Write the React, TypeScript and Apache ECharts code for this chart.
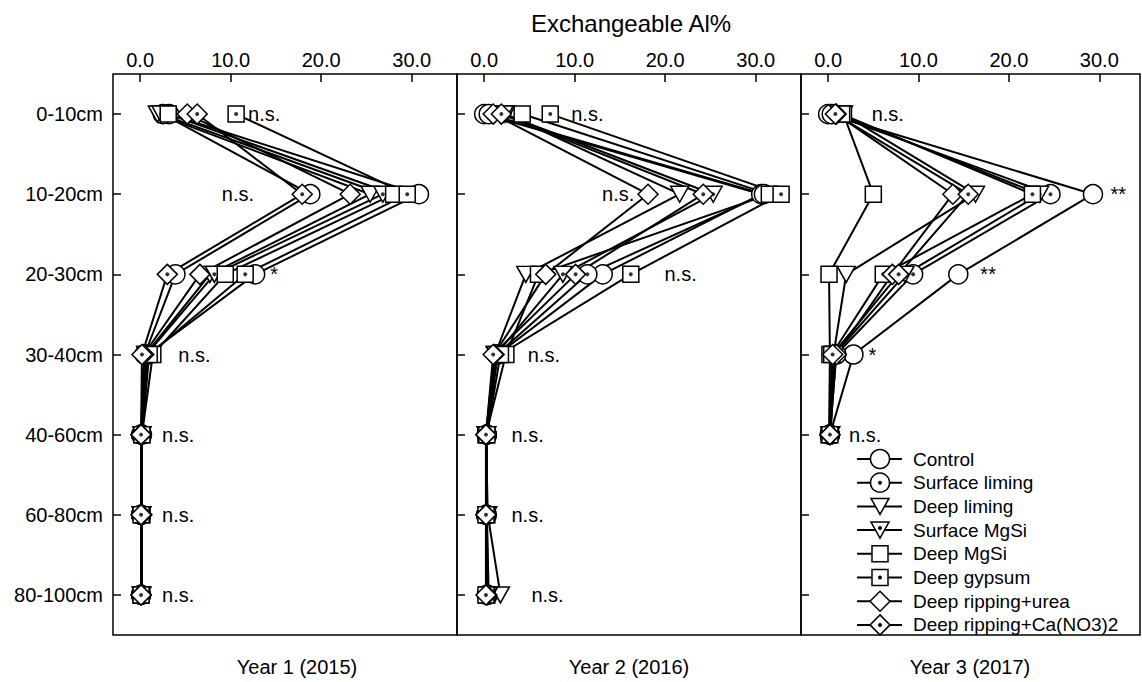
import React, { useEffect, useRef } from "react";
import * as echarts from "echarts";

const depths = ["0-10cm", "10-20cm", "20-30cm", "30-40cm", "40-60cm", "60-80cm", "80-100cm"];
const xTicks = [0, 10, 20, 30];
const yearLabels = ["Year 1 (2015)", "Year 2 (2016)", "Year 3 (2017)"];
const treatments = [
  "Control",
  "Surface liming",
  "Deep liming",
  "Surface MgSi",
  "Deep MgSi",
  "Deep gypsum",
  "Deep ripping+urea",
  "Deep ripping+Ca(NO3)2",
];

// Exchangeable Al% by depth (0-10 ... 80-100 cm), one array per treatment
const year1 = [
  [3.2, 30.8, 12.7, 0.8, 0.2, 0.1, 0.1],
  [2.5, 18.8, 3.9, 0.5, 0.1, 0.1, 0.1],
  [1.9, 25.4, 7.7, 0.6, 0.2, 0.2, 0.2],
  [2.3, 26.8, 8.2, 0.7, 0.2, 0.1, 0.1],
  [3.1, 28.0, 9.4, 1.4, 0.2, 0.2, 0.1],
  [10.6, 29.5, 11.6, 1.0, 0.2, 0.1, 0.1],
  [5.2, 23.2, 6.6, 0.4, 0.1, 0.2, 0.1],
  [6.3, 17.9, 3.0, 0.2, 0.1, 0.1, 0.1],
];
const year2 = [
  [0.0, 30.6, 13.1, 1.5, 0.3, 0.3, 0.4],
  [0.5, 30.9, 11.4, 1.4, 0.3, 0.2, 0.3],
  [2.4, 21.6, 4.6, 1.2, 0.2, 0.4, 1.8],
  [2.2, 25.3, 8.7, 1.3, 0.3, 0.3, 0.5],
  [4.2, 31.5, 6.0, 2.4, 0.2, 0.3, 0.3],
  [7.3, 32.8, 16.2, 1.8, 0.3, 0.2, 0.2],
  [1.0, 18.1, 6.8, 1.1, 0.2, 0.2, 0.3],
  [1.9, 24.2, 10.1, 1.0, 0.2, 0.2, 0.2],
];
const year3 = [
  [0.0, 29.3, 14.4, 2.8, 0.2],
  [0.4, 24.6, 9.4, 0.9, 0.2],
  [1.7, 16.3, 2.0, 0.6, 0.3],
  [1.2, 23.4, 8.5, 0.7, 0.2],
  [1.7, 5.0, 0.1, 0.2, 0.1],
  [1.5, 22.6, 6.1, 0.4, 0.2],
  [0.9, 13.8, 7.1, 0.9, 0.2],
  [0.8, 15.5, 7.8, 0.5, 0.2],
];
const years = [year1, year2, year3];

// significance annotations: [panel, depth index, x value, text]
const annotations: [number, number, number, string][] = [
  [0, 0, 13.7, "n.s."],
  [0, 1, 10.8, "n.s."],
  [0, 2, 14.8, "*"],
  [0, 3, 6.0, "n.s."],
  [0, 4, 4.2, "n.s."],
  [0, 5, 4.2, "n.s."],
  [0, 6, 4.2, "n.s."],
  [1, 0, 11.4, "n.s."],
  [1, 1, 14.8, "n.s."],
  [1, 2, 21.7, "n.s."],
  [1, 3, 6.6, "n.s."],
  [1, 4, 4.8, "n.s."],
  [1, 5, 4.8, "n.s."],
  [1, 6, 7.0, "n.s."],
  [2, 0, 6.6, "n.s."],
  [2, 1, 32.1, "**"],
  [2, 2, 17.7, "**"],
  [2, 3, 4.9, "*"],
  [2, 4, 4.1, "n.s."],
];

const FONT = "'Liberation Sans', Arial, Helvetica, sans-serif";
const shapeOf = ["circle", "circle", "tri", "tri", "rect", "rect", "diamond", "diamond"];
const dotted = [false, true, false, true, false, true, false, true];

function symbolProps(shape: string) {
  if (shape === "circle") return { symbol: "circle", symbolSize: 19, symbolRotate: 0 };
  if (shape === "tri") return { symbol: "triangle", symbolSize: [18, 16], symbolRotate: 180 };
  if (shape === "rect") return { symbol: "rect", symbolSize: 16, symbolRotate: 0 };
  return { symbol: "diamond", symbolSize: [20, 20], symbolRotate: 0 };
}

export default function App() {
  const ref = useRef<HTMLDivElement>(null);
  useEffect(() => {
    if (!ref.current) return;
    const chart = echarts.init(ref.current, null, { renderer: "svg" });
    const grids = [
      { left: 113, top: 74, width: 344, height: 561 },
      { left: 457, top: 74, width: 344, height: 561 },
      { left: 801, top: 74, width: 339, height: 561 },
    ];
    const maxes = [35, 35, 34.5];
    const series: any[] = [];
    years.forEach((yr, p) => {
      yr.forEach((vals) => {
        series.push({
          type: "line",
          xAxisIndex: p,
          yAxisIndex: p,
          data: vals.map((v, i) => [v, i]),
          symbol: "none",
          lineStyle: { color: "#000", width: 2 },
          z: 2,
          silent: true,
        });
      });
    });
    years.forEach((yr, p) => {
      yr.forEach((vals, t) => {
        const sp = symbolProps(shapeOf[t]);
        series.push({
          type: "scatter",
          xAxisIndex: p,
          yAxisIndex: p,
          data: vals.map((v, i) => [v, i]),
          ...sp,
          itemStyle: { color: "#fff", borderColor: "#000", borderWidth: 1.5, opacity: 1 },
          z: 3,
          silent: true,
        });
        if (dotted[t]) {
          series.push({
            type: "scatter",
            xAxisIndex: p,
            yAxisIndex: p,
            data: vals.map((v, i) => [v, i]),
            symbol: "circle",
            symbolSize: 4,
            itemStyle: { color: "#000" },
            z: 3,
            silent: true,
          });
        }
      });
    });
    [0, 1, 2].forEach((p) => {
      series.push({
        type: "scatter",
        xAxisIndex: p,
        yAxisIndex: p,
        data: annotations.filter((a) => a[0] === p).map((a) => [a[2], a[1], a[3]]),
        symbol: "circle",
        symbolSize: 1,
        itemStyle: { color: "#fff" },
        label: {
          show: true,
          position: "inside",
          formatter: (d: any) => d.value[2],
          color: "#000",
          opacity: 1,
          textBorderWidth: 0,
          fontSize: 20,
          fontFamily: FONT,
        },
        z: 4,
        silent: true,
      });
    });

    const graphics: any[] = [];
    graphics.push({
      type: "text",
      x: 631,
      y: 23,
      style: { text: "Exchangeable Al%", font: `24px ${FONT}`, fill: "#000", textAlign: "center", textVerticalAlign: "middle" },
    });
    const yearX = [297, 629, 970];
    yearLabels.forEach((s, i) => {
      graphics.push({
        type: "text",
        x: yearX[i],
        y: 667,
        style: { text: s, font: `20px ${FONT}`, fill: "#000", textAlign: "center", textVerticalAlign: "middle" },
      });
    });
    treatments.forEach((name, i) => {
      const y = 459 + i * 23.7;
      const cx = 880;
      graphics.push({ type: "line", shape: { x1: 857, y1: y, x2: 902, y2: y }, style: { stroke: "#000", lineWidth: 2 }, z: 10 });
      const st = { fill: "#fff", stroke: "#000", lineWidth: 1.5 };
      const s = shapeOf[i];
      if (s === "circle") graphics.push({ type: "circle", shape: { cx, cy: y, r: 9.5 }, style: st, z: 11 });
      else if (s === "rect") graphics.push({ type: "rect", shape: { x: cx - 8, y: y - 8, width: 16, height: 16 }, style: st, z: 11 });
      else if (s === "tri")
        graphics.push({ type: "polygon", shape: { points: [[cx - 9, y - 8], [cx + 9, y - 8], [cx, y + 8]] }, style: st, z: 11 });
      else
        graphics.push({ type: "polygon", shape: { points: [[cx, y - 10], [cx + 10, y], [cx, y + 10], [cx - 10, y]] }, style: st, z: 11 });
      if (dotted[i]) graphics.push({ type: "circle", shape: { cx, cy: s === "tri" ? y - 2 : y, r: 2 }, style: { fill: "#000" }, z: 12 });
      graphics.push({
        type: "text",
        x: 913,
        y,
        style: { text: name, font: `19px ${FONT}`, fill: "#000", textAlign: "left", textVerticalAlign: "middle" },
        z: 11,
      });
    });

    chart.setOption({
      animation: false,
      backgroundColor: "#fff",
      grid: grids.map((g) => ({ ...g, show: true, borderColor: "#000", borderWidth: 1.5, backgroundColor: "transparent" })),
      xAxis: [0, 1, 2].map((p) => ({
        type: "value",
        gridIndex: p,
        position: "top",
        min: -3,
        max: maxes[p],
        axisLine: { show: false, onZero: false },
        axisTick: { show: true, inside: true, length: 8, customValues: xTicks, lineStyle: { color: "#000", width: 1.5 } },
        axisLabel: {
          show: true,
          customValues: xTicks,
          formatter: (v: number) => v.toFixed(1),
          fontSize: 20,
          fontFamily: FONT,
          color: "#000",
          margin: 4,
        },
        splitLine: { show: false },
      })),
      yAxis: [0, 1, 2].map((p) => ({
        type: "value",
        gridIndex: p,
        position: "left",
        inverse: true,
        min: -0.5,
        max: 6.5,
        axisLine: { show: false, onZero: false },
        axisTick: { show: true, inside: true, length: 8, customValues: depths.map((_, i) => i), lineStyle: { color: "#000", width: 1.5 } },
        axisLabel: {
          show: p === 0,
          customValues: depths.map((_, i) => i),
          formatter: (v: number) => depths[Math.round(v)] ?? "",
          fontSize: 20,
          fontFamily: FONT,
          color: "#000",
          margin: 10,
        },
        splitLine: { show: false },
      })),
      series,
      graphic: graphics,
    });
    return () => chart.dispose();
  }, []);
  return <div ref={ref} style={{ position: "fixed", left: 0, top: 0, width: 1142, height: 682 }} />;
}
